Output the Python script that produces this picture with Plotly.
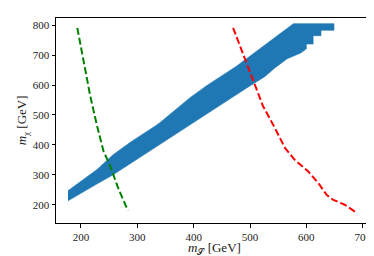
import plotly.graph_objects as go

# Allowed band: upper and lower edges
band_ms_upper = [177, 228, 257, 287, 334, 340, 393, 423, 476, 523, 550, 577, 649]
band_mchi_upper = [247, 317, 367, 408, 466, 474, 557, 598, 663, 728, 766, 805, 805]
band_ms_lower = [649, 649, 626, 626, 612, 612, 600, 600, 590, 578, 566, 544, 526, 494, 476, 423, 393, 334, 257, 228, 177]
band_mchi_lower = [805, 783, 783, 765, 765, 737, 737, 721, 707, 698, 688, 657, 628, 590, 568, 503, 468, 395, 300, 269, 213]

# Green dashed curve
green_ms = [193.5, 204, 216, 228, 240, 251, 257, 266, 280, 284]
green_mchi = [791, 691, 568, 468, 379, 334, 300, 256, 195, 182]

# Red dashed curve
red_ms = [470, 488, 506, 523, 544, 562, 579, 603, 621, 636, 647, 668, 687]
red_mchi = [791, 702, 613, 530, 457, 390, 351, 312, 273, 233, 217, 200, 176]

x_ticks = [200, 300, 400, 500, 600, 700]
y_ticks = [200, 300, 400, 500, 600, 700, 800]

font = "Liberation Serif, DejaVu Serif, serif"

fig = go.Figure()
fig.add_trace(go.Scatter(
    x=band_ms_upper + band_ms_lower,
    y=band_mchi_upper + band_mchi_lower,
    mode="lines", fill="toself", fillcolor="#1f77b4",
    line=dict(width=0.6, color="#1f77b4"), hoverinfo="skip", showlegend=False))
fig.add_trace(go.Scatter(x=green_ms, y=green_mchi, mode="lines",
                         line=dict(color="#008000", width=2, dash="7px,3px"),
                         showlegend=False))
fig.add_trace(go.Scatter(x=red_ms, y=red_mchi, mode="lines",
                         line=dict(color="#ff0000", width=2, dash="7px,3px"),
                         showlegend=False))

axis_common = dict(showgrid=False, zeroline=False, showline=True, linecolor="black",
                   linewidth=1, mirror=True, ticks="outside", ticklen=3.5, tickwidth=0.8,
                   tickcolor="black", tickfont=dict(family=font, size=11, color="#222"))
fig.update_xaxes(range=[155.7, 716.5], tickvals=x_ticks, **axis_common)
fig.update_yaxes(range=[139, 824], tickvals=y_ticks, **axis_common)

fig.add_annotation(text="<i>m</i><sub><span style='font-size:9px'>𝒮</span></sub> [GeV]",
                   xref="paper", yref="paper",
                   x=0.5, y=-0.125, xanchor="center", yanchor="middle", showarrow=False,
                   font=dict(family=font, size=13, color="#222"))
fig.add_annotation(text="<i>m</i><sub>χ</sub> [GeV]", xref="paper", yref="paper",
                   x=-0.105, y=0.5, xanchor="center", yanchor="middle", showarrow=False,
                   textangle=-90, font=dict(family=font, size=13, color="#222"))

fig.update_layout(width=374, height=256, margin=dict(l=48, r=10, t=10, b=41),
                  plot_bgcolor="white", paper_bgcolor="white", showlegend=False)
fig.write_html("out.html")
